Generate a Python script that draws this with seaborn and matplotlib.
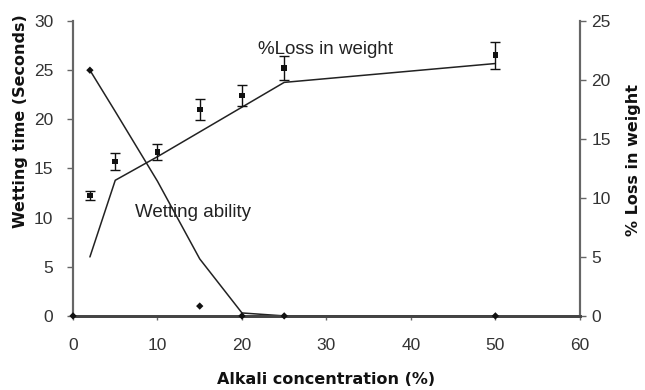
import matplotlib
matplotlib.use("Agg")
import matplotlib.pyplot as plt
import seaborn as sns
import pandas as pd

sns.set_theme(style="white")
plt.rcParams['font.family'] = ['Liberation Sans', 'DejaVu Sans']

# Data
conc = [2, 5, 10, 15, 20, 25, 50]
# Wetting time (left axis) - trend line vertices
wet_line = [25, 20.8, 13.7, 5.8, 0.3, 0, 0]
# Wetting time measured points
wet_pts_x = [0, 2, 15, 20, 25, 50]
wet_pts_y = [0, 25, 1.0, 0, 0, 0]
# % Loss in weight (right axis) - trend line vertices
loss_line = [5.0, 11.5, 13.5, 15.6, 17.7, 19.8, 21.4]
# % Loss in weight measured points with error
loss_pts = [10.2, 13.1, 13.9, 17.5, 18.7, 21.0, 22.1]
loss_err = [0.4, 0.7, 0.65, 0.93, 0.87, 1.0, 1.13]

xticks = [0, 10, 20, 30, 40, 50, 60]
lticks = [0, 5, 10, 15, 20, 25, 30]
rticks = [0, 5, 10, 15, 20, 25]

fig = plt.figure(figsize=(6.45, 3.9), dpi=100)
ax = fig.add_axes([0.1132, 0.19, 0.7858, 0.756])
ax2 = ax.twinx()

df_w = pd.DataFrame({"x": conc, "y": wet_line})
df_wp = pd.DataFrame({"x": wet_pts_x, "y": wet_pts_y})
df_l = pd.DataFrame({"x": conc, "y": loss_line})
df_lp = pd.DataFrame({"x": conc, "y": loss_pts})

sns.lineplot(data=df_w, x="x", y="y", ax=ax, color="#222222", lw=1.1,
             estimator=None, sort=False)
sns.scatterplot(data=df_wp, x="x", y="y", ax=ax, color="#111111", s=14,
                marker="D", edgecolor="none", zorder=5, clip_on=False)

sns.lineplot(data=df_l, x="x", y="y", ax=ax2, color="#222222", lw=1.1,
             estimator=None, sort=False)
ax2.errorbar(conc, loss_pts, yerr=loss_err, fmt="none", ecolor="#111111",
             elinewidth=1.0, capsize=3.5, capthick=1.0)
sns.scatterplot(data=df_lp, x="x", y="y", ax=ax2, color="#111111", s=16,
                marker="s", edgecolor="none", zorder=5)

ax.set_xlim(0, 60)
ax.set_ylim(0, 30)
ax2.set_ylim(0, 25)
ax.set_xticks(xticks)
ax.set_yticks(lticks)
ax2.set_yticks(rticks)

for a in (ax, ax2):
    a.spines["top"].set_visible(False)
    a.spines["left"].set_color("#666666")
    a.spines["right"].set_color("#666666")
    a.spines["bottom"].set_color("#444444")
    a.spines["bottom"].set_linewidth(2.0)
    a.spines["left"].set_linewidth(1.5)
    a.spines["right"].set_linewidth(1.5)

ax.tick_params(axis="y", direction="out", length=4.3, width=1, color="#666666",
               labelsize=12.5, labelcolor="#333333", pad=10, left=True)
ax.tick_params(axis="x", direction="out", length=3, width=1, color="#666666",
               labelsize=12.5, labelcolor="#333333", pad=13, bottom=True)
ax2.tick_params(axis="y", direction="out", length=4.3, width=1, color="#666666",
                labelsize=12.5, labelcolor="#333333", pad=4, right=True)

lab_font = dict(fontsize=11.5, fontweight="bold", color="#111111",
                family=["DejaVu Sans"])
ax.set_xlabel("Alkali concentration (%)", va="center", **lab_font)
ax.xaxis.set_label_coords(0.5, -0.217)
ax.set_ylabel("Wetting time (Seconds)", va="center", **lab_font)
ax.yaxis.set_label_coords(-0.104, 0.66)
ax2.set_ylabel("% Loss in weight", va="center", rotation=90, **lab_font)
ax2.yaxis.set_label_coords(1.105, 0.53)

ax.text(21.9, 27.1, "%Loss in weight", fontsize=13.5, color="#222222",
        va="center", ha="left")
ax.text(7.3, 10.5, "Wetting ability", fontsize=13.5, color="#222222",
        va="center", ha="left")

ax.set_zorder(ax2.get_zorder() + 1)
ax.patch.set_visible(False)

fig.savefig("out.png", dpi=100, facecolor="white")
